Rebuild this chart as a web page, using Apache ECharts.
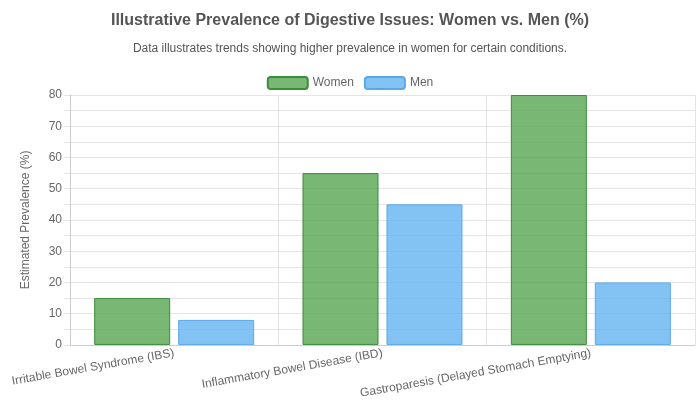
<!DOCTYPE html>
<html><head><meta charset="utf-8">
<script src="https://cdn.jsdelivr.net/npm/echarts@6/dist/echarts.min.js"></script>
<style>html,body{margin:0;background:#fff}#c{width:700px;height:400px}</style>
</head><body><div id="c"></div>
<script>
var categories = ['Irritable Bowel Syndrome (IBS)', 'Inflammatory Bowel Disease (IBD)', 'Gastroparesis (Delayed Stomach Emptying)'];
var women = [15, 55, 80];
var men = [8, 45, 20];

var chart = echarts.init(document.getElementById('c'));
var font = 'Arial, "Liberation Sans", sans-serif';
chart.setOption({
    animation: false,
    textStyle: {fontFamily: font},
    title: {
        text: 'Illustrative Prevalence of Digestive Issues: Women vs. Men (%)',
        subtext: 'Data illustrates trends showing higher prevalence in women for certain conditions.',
        left: 'center', top: 8, itemGap: 14,
        textStyle: {fontSize: 16, fontWeight: 'bold', color: '#555', fontFamily: font},
        subtextStyle: {fontSize: 12, color: '#555', fontFamily: font}
    },
    legend: {
        top: 71, itemWidth: 40, itemHeight: 12, itemGap: 10,
        textStyle: {fontSize: 12, color: '#666'},
        data: ['Women', 'Men']
    },
    grid: {left: 70, right: 5, top: 95, bottom: 54},
    xAxis: {
        type: 'category', data: categories,
        axisTick: {show: false},
        axisLine: {lineStyle: {color: '#ccc'}},
        splitLine: {show: true, lineStyle: {color: '#e5e5e5'}},
        axisLabel: {rotate: 10, interval: 0, color: '#666', fontSize: 12, margin: 8}
    },
    yAxis: {
        type: 'value', min: 0, max: 80, interval: 5,
        name: 'Estimated Prevalence (%)', nameLocation: 'middle', nameGap: 38,
        nameTextStyle: {color: '#666', fontSize: 12},
        axisLine: {show: true, lineStyle: {color: '#ccc'}},
        axisTick: {show: true, length: 6, lineStyle: {color: '#e5e5e5'}},
        splitLine: {lineStyle: {color: '#e5e5e5'}},
        axisLabel: {color: '#666', fontSize: 12,
            formatter: function (v) { return v % 10 === 0 ? v : ''; }}
    },
    series: [
        {name: 'Women', type: 'bar', data: women, barWidth: 76, barGap: '10.5%',
         itemStyle: {color: 'rgba(76,160,70,0.75)', borderColor: '#3d8b3d', borderWidth: 1}},
        {name: 'Men', type: 'bar', data: men, barWidth: 76,
         itemStyle: {color: 'rgba(100,180,240,0.8)', borderColor: '#5aa8e8', borderWidth: 1}}
    ]
});
</script></body></html>
